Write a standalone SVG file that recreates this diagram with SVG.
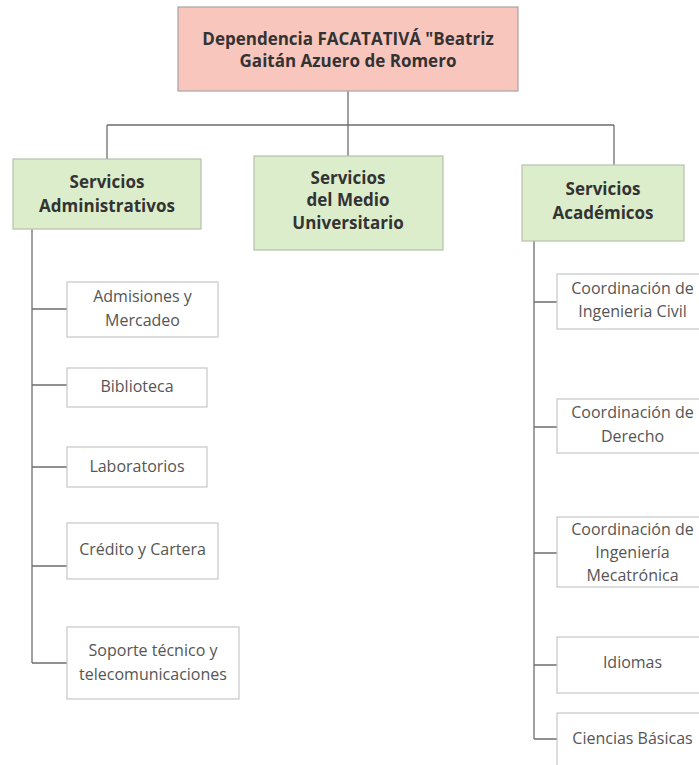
<svg xmlns="http://www.w3.org/2000/svg" width="699" height="765" viewBox="0 0 699 765">
<style>
.root{fill:#f9c6be;stroke:#a9a3a2;stroke-width:1.2}
.grp{fill:#dcedcb;stroke:#b4c2ab;stroke-width:1.2}
.leaf{fill:#ffffff;stroke:#c6c6c6;stroke-width:1.2}
.b{font-family:"Open Sans","Noto Sans",sans-serif;font-weight:bold;font-size:17px;fill:#333333;text-anchor:middle}
.r{font-family:"Open Sans","Noto Sans",sans-serif;font-size:16px;fill:#555555;text-anchor:middle}
.ln{fill:none;stroke:#6e6e6e;stroke-width:1.3}
</style>
<rect width="699" height="765" fill="#ffffff"/>
<g id="connectors">
<path class="ln" d="M348 91V125M107 125H614M107 125V159M348 125V156M614 125V165"/>
<path class="ln" d="M32 229V663M32 309H67M32 385H67M32 467H67M32 566H67M32 663H67"/>
<path class="ln" d="M534 241V739M534 302H557M534 427H557M534 553H557M534 665H557M534 739H557"/>
</g>
<g id="root">
<rect class="root" x="178" y="7" width="340" height="84"/>
<text class="b" x="348" y="45">Dependencia FACATATIVÁ "Beatriz</text>
<text class="b" x="348" y="67">Gaitán Azuero de Romero</text>
</g>
<g id="admin">
<rect class="grp" x="13" y="159" width="188" height="70"/>
<text class="b" x="107" y="188">Servicios</text>
<text class="b" x="107" y="212">Administrativos</text>
</g>
<g id="medio">
<rect class="grp" x="254" y="156" width="189" height="94"/>
<text class="b" x="348" y="184">Servicios</text>
<text class="b" x="348" y="206">del Medio</text>
<text class="b" x="348" y="229">Universitario</text>
</g>
<g id="academicos">
<rect class="grp" x="522" y="165" width="162" height="76"/>
<text class="b" x="603" y="195">Servicios</text>
<text class="b" x="603" y="219">Académicos</text>
</g>
<g id="admisiones">
<rect class="leaf" x="67" y="282" width="151" height="55"/>
<text class="r" x="142.5" y="302">Admisiones y</text>
<text class="r" x="142.5" y="326">Mercadeo</text>
</g>
<g id="biblioteca">
<rect class="leaf" x="67" y="368" width="140" height="39"/>
<text class="r" x="137" y="392">Biblioteca</text>
</g>
<g id="laboratorios">
<rect class="leaf" x="67" y="447" width="140" height="40"/>
<text class="r" x="137" y="472">Laboratorios</text>
</g>
<g id="credito">
<rect class="leaf" x="67" y="523" width="151" height="56"/>
<text class="r" x="142.5" y="555">Crédito y Cartera</text>
</g>
<g id="soporte">
<rect class="leaf" x="67" y="627" width="172" height="72"/>
<text class="r" x="153" y="656">Soporte técnico y</text>
<text class="r" x="153" y="680">telecomunicaciones</text>
</g>
<g id="civil">
<rect class="leaf" x="557" y="274" width="152" height="55"/>
<text class="r" x="632.5" y="294">Coordinación de</text>
<text class="r" x="632.5" y="317">Ingenieria Civil</text>
</g>
<g id="derecho">
<rect class="leaf" x="557" y="399" width="152" height="54"/>
<text class="r" x="632.5" y="418">Coordinación de</text>
<text class="r" x="632.5" y="442">Derecho</text>
</g>
<g id="mecatronica">
<rect class="leaf" x="557" y="517" width="152" height="70"/>
<text class="r" x="632.5" y="535">Coordinación de</text>
<text class="r" x="632.5" y="558">Ingeniería</text>
<text class="r" x="632.5" y="581">Mecatrónica</text>
</g>
<g id="idiomas">
<rect class="leaf" x="557" y="637" width="152" height="56"/>
<text class="r" x="632.5" y="668">Idiomas</text>
</g>
<g id="ciencias">
<rect class="leaf" x="557" y="713" width="152" height="60"/>
<text class="r" x="632.5" y="744">Ciencias Básicas</text>
</g>
</svg>
